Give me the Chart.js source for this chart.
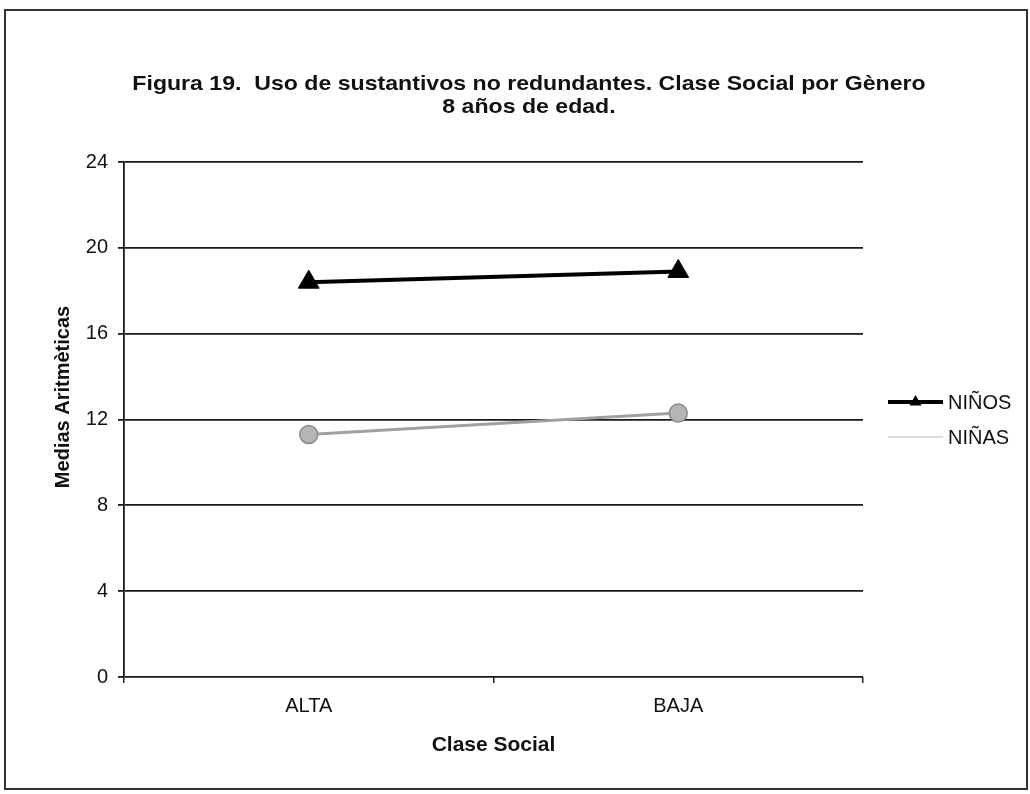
<!DOCTYPE html>
<html>
<head>
<meta charset="utf-8">
<script src="https://cdn.jsdelivr.net/npm/chart.js@4"></script>
<style>
  html, body { margin: 0; padding: 0; background: #ffffff; }
  #wrap { position: relative; width: 1030px; height: 794px; }
  canvas { display: block; }
</style>
</head>
<body>
<div id="wrap"><canvas id="chart" width="1030" height="794"></canvas></div>
<script>
// Categories and series
const categories = ['ALTA', 'BAJA'];
const ninos = [18.4, 18.9];
const ninas = [11.3, 12.3];
const yTicks = [0, 4, 8, 12, 16, 20, 24];

const titleLines = ['Figura 19.  Uso de sustantivos no redundantes. Clase Social por Gènero', '8 años de edad.'];
const xTitle = 'Clase Social';
const yTitle = 'Medias Aritmèticas';
const seriesNames = ['NIÑOS', 'NIÑAS'];

const FONT = '"Liberation Sans", Arial, Helvetica, sans-serif';

// Frame, heading, rotated axis title and legend
const decorations = {
  id: 'decorations',
  beforeDraw(chart) {
    const ctx = chart.ctx;
    ctx.save();
    ctx.fillStyle = '#ffffff';
    ctx.fillRect(0, 0, chart.width, chart.height);
    ctx.strokeStyle = '#333333';
    ctx.lineWidth = 2;
    ctx.strokeRect(5, 10, 1022, 779);
    ctx.restore();
  },
  afterDraw(chart) {
    const ctx = chart.ctx;
    ctx.save();
    ctx.fillStyle = '#111111';
    ctx.textAlign = 'center';
    ctx.textBaseline = 'middle';
    ctx.font = 'bold 21px ' + FONT;
    // heading, slightly widened
    [[titleLines[0], 84], [titleLines[1], 107]].forEach(([t, y]) => {
      ctx.save();
      ctx.translate(529, y);
      ctx.scale(1.1, 1);
      ctx.fillText(t, 0, 0);
      ctx.restore();
    });

    ctx.save();
    ctx.translate(63, 397);
    ctx.rotate(-Math.PI / 2);
    ctx.font = 'bold 20px ' + FONT;
    ctx.fillText(yTitle, 0, 0);
    ctx.restore();

    // Legend
    const lx0 = 888, lx1 = 943, tx = 948;
    const rows = [402, 437];
    chart.data.datasets.forEach((ds, i) => {
      const y = rows[i];
      ctx.beginPath();
      ctx.moveTo(lx0, y);
      ctx.lineTo(lx1, y);
      ctx.strokeStyle = i === 0 ? '#000000' : '#dcdcdc';
      ctx.lineWidth = i === 0 ? 4 : 2;
      ctx.stroke();
      if (i === 0) {
        ctx.beginPath();
        const cx = (lx0 + lx1) / 2, r = 7;
        ctx.moveTo(cx, y - r);
        ctx.lineTo(cx + r * 0.866, y + r / 2);
        ctx.lineTo(cx - r * 0.866, y + r / 2);
        ctx.closePath();
        ctx.fillStyle = '#000000';
        ctx.fill();
      }
      ctx.fillStyle = '#111111';
      ctx.textAlign = 'left';
      ctx.font = '20px ' + FONT;
      ctx.fillText(ds.label, tx, y + 1);
    });
    ctx.restore();
  }
};

new Chart(document.getElementById('chart'), {
  type: 'line',
  data: {
    labels: categories,
    datasets: [
      {
        label: seriesNames[0],
        data: ninos,
        borderColor: '#000000',
        borderWidth: 4,
        pointStyle: 'triangle',
        pointRadius: 12,
        pointBackgroundColor: '#000000',
        pointBorderColor: '#000000',
        pointBorderWidth: 1,
        tension: 0
      },
      {
        label: seriesNames[1],
        data: ninas,
        borderColor: '#a0a0a0',
        borderWidth: 3,
        pointStyle: 'circle',
        pointRadius: 9,
        pointBackgroundColor: '#b5b5b5',
        pointBorderColor: '#8a8a8a',
        pointBorderWidth: 1.5,
        tension: 0
      }
    ]
  },
  options: {
    responsive: false,
    animation: false,
    layout: { padding: { left: 0, right: 167, top: 162, bottom: 0 } },
    plugins: {
      legend: { display: false },
      title: { display: false },
      tooltip: { enabled: false }
    },
    scales: {
      x: {
        type: 'category',
        offset: true,
        grid: { display: true, drawOnChartArea: false, drawTicks: true, tickLength: 6, offset: true, color: '#222222', lineWidth: 1.5 },
        border: { display: false },
        ticks: { color: '#111111', font: { family: FONT, size: 20 }, padding: 11, maxRotation: 0 },
        title: { display: true, text: xTitle, color: '#111111', font: { family: FONT, size: 21, weight: 'bold' }, padding: { top: 0, bottom: 36 } },
        afterFit(scale) { scale.height = 117; }
      },
      y: {
        min: 0,
        max: 24,
        afterBuildTicks(scale) { scale.ticks = yTicks.map(v => ({ value: v })); },
        grid: { color: '#1a1a1a', lineWidth: 1.8, tickLength: 6, drawTicks: true },
        border: { display: true, color: '#1a1a1a', width: 1.8 },
        ticks: { color: '#111111', font: { family: FONT, size: 20 }, padding: 10 },
        afterFit(scale) { scale.width = 124; }
      }
    }
  },
  plugins: [decorations]
});
</script>
</body>
</html>
